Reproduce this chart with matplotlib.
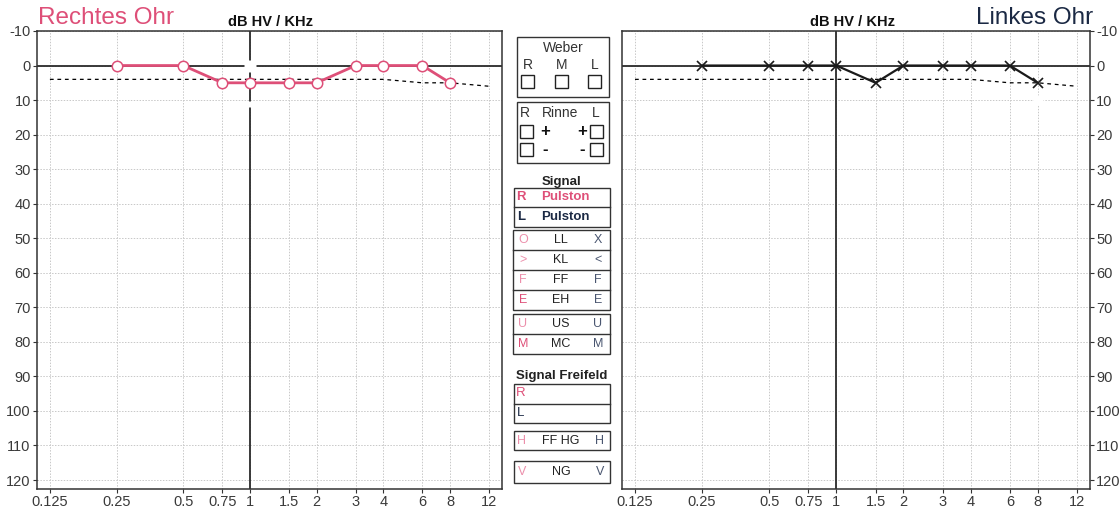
import matplotlib.pyplot as plt
from matplotlib.patches import Rectangle
from matplotlib.ticker import FixedLocator, NullLocator

plt.rcParams['font.family'] = ['Liberation Sans', 'DejaVu Sans']
plt.rcParams['axes.unicode_minus'] = False

W, H = 1120, 509

# Frequenzachse (kHz) und Pegelachse (dB HV)
freq_ticks = [0.125, 0.25, 0.5, 0.75, 1, 1.5, 2, 3, 4, 6, 8, 12]
freq_labels = ['0.125', '0.25', '0.5', '0.75', '1', '1.5', '2', '3', '4', '6', '8', '12']
db_ticks = list(range(-10, 121, 10))

# Luftleitung
freqs = [0.25, 0.5, 0.75, 1, 1.5, 2, 3, 4, 6, 8]
rechts_ll = [0, 0, 5, 5, 5, 5, 0, 0, 0, 5]
links_ll = [0, 0, 0, 0, 5, 0, 0, 0, 0, 5]

# Normkurve (gestrichelt)
norm_freqs = [0.125, 0.25, 0.5, 1, 2, 3, 4, 6, 8, 12]
norm_db = [4, 4, 4, 4, 4, 4, 4, 5, 5, 6]

# Maskierte Stellen (weiß überdeckt): Frequenz, Pegel, Größe
mask_rechts = [(1, 0, 9), (1, 11.2, 5)]
mask_links = [(8, 10, 7)]

# Symboltabelle Mitte
sym_rows_a = [('O', 'LL', 'X'), ('>', 'KL', '<'), ('F', 'FF', 'F'), ('E', 'EH', 'E')]
sym_rows_b = [('U', 'US', 'U'), ('M', 'MC', 'M')]

PINK = '#de4f78'
PINK_L = '#ec8fab'
NAVY = '#1b2944'
GRAYNAVY = '#4a5670'
LINE = '#2a2a2a'

fig = plt.figure(figsize=(W / 100, H / 100), dpi=100)


def px_axes(x0, y0, x1, y1, **kw):
    return fig.add_axes([x0 / W, 1 - y1 / H, (x1 - x0) / W, (y1 - y0) / H], **kw)


def setup(ax, side):
    ax.set_xscale('log')
    ax.set_xlim(0.1093, 13.73)
    ax.set_ylim(122.6, -10)
    ax.xaxis.set_major_locator(FixedLocator(freq_ticks))
    ax.xaxis.set_minor_locator(NullLocator())
    ax.set_xticklabels(freq_labels)
    ax.set_yticks(db_ticks)
    ax.grid(True, color='#c8c8c8', ls=(0, (1.5, 1.5)), lw=0.7, zorder=0)
    ax.axhline(0, color=LINE, lw=1.3, zorder=2)
    ax.axvline(1, color=LINE, lw=1.3, zorder=2)
    for s in ax.spines.values():
        s.set_color('#333333')
        s.set_linewidth(1.1)
    ax.tick_params(labelsize=10.5, labelcolor='#3a3a3a', color='#333333',
                   length=3, width=0.8, pad=1.5)
    if side == 'right':
        ax.yaxis.tick_right()
    ax.plot(norm_freqs, norm_db, color='black', lw=0.9, ls=(0, (3, 3)), zorder=3)


ax_r = px_axes(37, 31, 502, 489)
setup(ax_r, 'left')
for fx, dy, ms in mask_rechts:
    ax_r.plot(fx, dy, marker='+', ms=ms, mew=3.5, color='white', zorder=3.5)
ax_r.plot(freqs, rechts_ll, color=PINK, lw=2, marker='o', ms=7.5,
          mfc='white', mec=PINK, mew=1.1, zorder=4)

ax_l = px_axes(622, 31, 1090, 489)
setup(ax_l, 'right')
for fx, dy, ms in mask_links:
    ax_l.plot(fx, dy, marker='+', ms=ms, mew=3.5, color='white', zorder=3.5)
ax_l.plot(freqs, links_ll, color='#1a1a1a', lw=1.6, marker='x', ms=6.5,
          mec='#1a1a1a', mew=1.2, zorder=4)

# Überschriften
fig.text(38 / W, 1 - 18 / H, 'Rechtes Ohr', color=PINK, fontsize=17.5,
         ha='left', va='center')
fig.text(1093 / W, 1 - 18 / H, 'Linkes Ohr', color=NAVY, fontsize=17.5,
         ha='right', va='center')
for cx in (271, 853):
    fig.text(cx / W, 1 - 22 / H, 'dB HV / KHz', fontsize=10.5, weight='bold',
             ha='center', va='center', color='#111111')

# Mittelteil: Weber / Rinne / Signal
mid = px_axes(0, 0, W, H)
mid.set_xlim(0, W)
mid.set_ylim(H, 0)
mid.axis('off')
mid.patch.set_alpha(0)


def box(x0, y0, x1, y1, lw=1.0):
    mid.add_patch(Rectangle((x0, y0), x1 - x0, y1 - y0, fill=False,
                            ec='#333333', lw=lw))


def square(x, y, s=13):
    mid.add_patch(Rectangle((x, y), s, s, fill=False, ec='#222222', lw=1.0))


def t(x, y, s, color='#222222', size=9.5, **kw):
    mid.text(x, y, s, color=color, fontsize=size, ha='center', va='center', **kw)


# Weber
box(517, 37, 609, 97)
t(563, 48, 'Weber', color='#333333', size=10)
for x, lab in ((528, 'R'), (562, 'M'), (595, 'L')):
    t(x, 65, lab, color='#333333', size=10)
    square(x - 7, 75)

# Rinne
box(517, 102, 609, 163)
t(525, 113, 'R', color='#333333', size=10)
t(560, 113, 'Rinne', color='#333333', size=10)
t(596, 113, 'L', color='#333333', size=10)
for y, sign in ((125, '+'), (143, '-')):
    square(520, y)
    square(590, y)
    t(545, y + 6.5, sign, color='#111111', size=12, weight='bold')
    t(582, y + 6.5, sign, color='#111111', size=12, weight='bold')

# Signal
t(562, 182, 'Signal', size=9.5, weight='bold')
box(514, 188, 610, 227)
mid.plot([514, 610], [207, 207], color='#333333', lw=1.0)
t(521, 197.5, 'R', color=PINK, size=9.5, weight='bold')
t(565, 197.5, 'Pulston', color=PINK, size=9.5, weight='bold')
t(521, 216.5, 'L', color=NAVY, size=9.5, weight='bold')
t(565, 216.5, 'Pulston', color=NAVY, size=9.5, weight='bold')


def sym_table(rows, y0, h=20):
    box(513, y0, 610, y0 + h * len(rows))
    for i, (l, m, r) in enumerate(rows):
        yc = y0 + h * i + h / 2
        if i:
            mid.plot([513, 610], [y0 + h * i] * 2, color='#333333', lw=1.0)
        lc = PINK_L if l in ('O', '>', 'F', 'U') else PINK
        t(523, yc, l, color=lc, size=9)
        t(561, yc, m, color='#222222', size=9)
        t(598, yc, r, color=GRAYNAVY, size=9)


sym_table(sym_rows_a, 230)
sym_table(sym_rows_b, 314)

# Signal Freifeld
t(562, 376, 'Signal Freifeld', size=9.5, weight='bold')
box(514, 384, 610, 423)
mid.plot([514, 610], [404, 404], color='#333333', lw=1.0)
t(521, 393.5, 'R', color=PINK, size=9.5)
t(521, 413, 'L', color=NAVY, size=9.5)

box(514, 431, 610, 450)
t(522, 440.5, 'H', color=PINK_L, size=9)
t(561, 440.5, 'FF HG', color='#222222', size=9)
t(600, 440.5, 'H', color=GRAYNAVY, size=9)

box(514, 461, 610, 483)
t(522, 472, 'V', color=PINK_L, size=9)
t(561, 472, 'NG', color='#222222', size=9)
t(600, 472, 'V', color=GRAYNAVY, size=9)

fig.savefig('out.png', dpi=100)
